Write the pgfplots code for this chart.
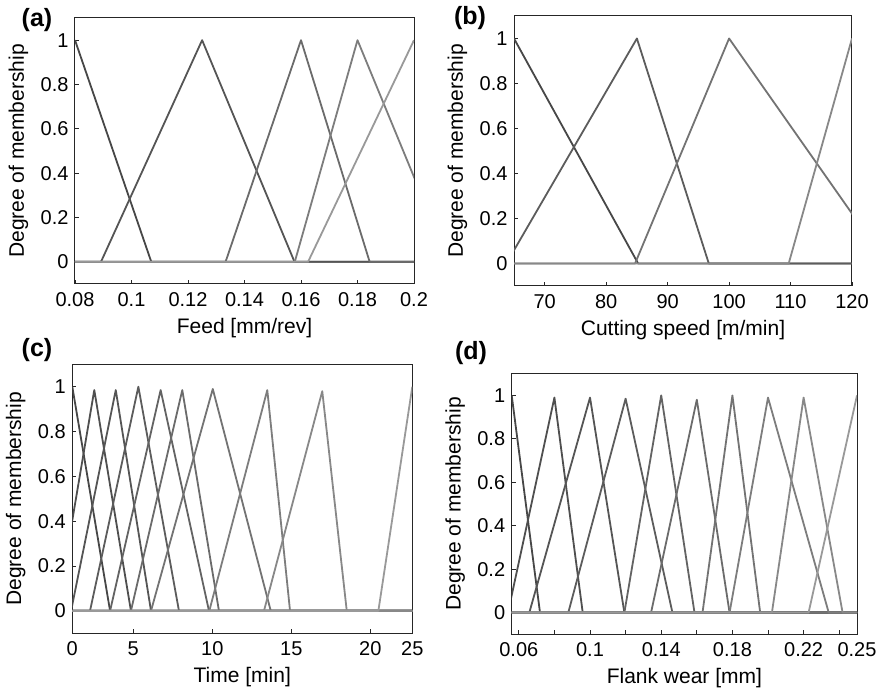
\documentclass[border=0pt]{standalone}
\usepackage{fontspec}
\setmainfont{Liberation Sans}
\usepackage{pgfplots}
\pgfplotsset{compat=1.18}

\definecolor{m1}{HTML}{474747}
\definecolor{m2}{HTML}{4F4F4F}
\definecolor{m3}{HTML}{555555}
\definecolor{m4}{HTML}{5C5C5C}
\definecolor{m5}{HTML}{636363}
\definecolor{m6}{HTML}{6B6B6B}
\definecolor{m7}{HTML}{737373}
\definecolor{m8}{HTML}{7D7D7D}
\definecolor{m9}{HTML}{888888}
\definecolor{m10}{HTML}{999999}

\pgfplotsset{mfaxis/.style={
  scale only axis, anchor=south west,
  ymin=-0.1, ymax=1.1,
  ytick={0,0.2,0.4,0.6,0.8,1}, yticklabels={0,0.2,0.4,0.6,0.8,1},
  tick align=inside, tick pos=left, major tick length=4pt,
  axis line style={line width=1pt, black!85},
  tick style={line width=0.8pt, black!85},
  ticklabel style={font=\fontsize{20}{20}\selectfont},
  xticklabel style={yshift=-5pt},
  yticklabel style={xshift=-3pt},
  label style={font=\fontsize{21}{21}\selectfont},
  /pgf/number format/assume math mode=true,
  ylabel={Degree of membership},
  ylabel style={at={([xshift=-56.5pt]axis description cs:0,0.5)}, anchor=center},
  xlabel style={at={([yshift=-44pt]axis description cs:0.5,0)}, anchor=center},
  every axis plot/.append style={line width=1.8pt, line join=round, mark=none},
}}

\begin{document}
\begin{tikzpicture}
\useasboundingbox (0,0) rectangle (879pt,692pt);

% (a) feed
\begin{axis}[mfaxis, at={(75pt,408pt)}, width=339pt, height=266pt,
  xmin=0.08, xmax=0.2,
  xtick={0.08,0.1,0.12,0.14,0.16,0.18,0.2},
  xticklabels={0.08,0.1,0.12,0.14,0.16,0.18,0.2},
  xlabel={Feed [mm/rev]}]
\addplot[m1] coordinates {(0.08,1) (0.107,0) (0.2,0)};
\addplot[m3] coordinates {(0.08,0) (0.0892,0) (0.125,1) (0.1577,0) (0.2,0)};
\addplot[m6] coordinates {(0.08,0) (0.1333,0) (0.16,1) (0.1843,0) (0.2,0)};
\addplot[m8] coordinates {(0.08,0) (0.1578,0) (0.18,1) (0.2124,0)};
\addplot[m10] coordinates {(0.08,0) (0.1625,0) (0.2,1)};
\end{axis}

% (b) cutting speed
\begin{axis}[mfaxis, at={(514pt,406pt)}, width=338pt, height=270pt,
  xmin=65, xmax=120,
  xtick={70,80,90,100,110,120},
  xticklabels={70,80,90,100,110,120},
  xlabel={Cutting speed [m/min]}]
\addplot[m1] coordinates {(65,1) (85.2,0) (120,0)};
\addplot[m4] coordinates {(63.75,0) (85,1) (96.7,0) (120,0)};
\addplot[m7] coordinates {(65,0) (84.7,0) (100,1) (125.7,0)};
\addplot[m9] coordinates {(65,0) (109.7,0) (120,1)};
\end{axis}

% (c) time
\begin{axis}[mfaxis, at={(72.3pt,58.7pt)}, width=340pt, height=269pt,
  xmin=1.139, xmax=22.658,
  xtick={1.139,5,10,15,20,22.658},
  xticklabels={0,5,10,15,20,25},
  xlabel={Time [min]}]
\addplot[m1] coordinates {(1.139,1) (3.53,0) (22.658,0)};
\addplot[m2] coordinates {(0.17,0) (2.53,0.985) (4.85,0) (22.658,0)};
\addplot[m3] coordinates {(1.06,0) (3.89,0.985) (6.12,0) (22.658,0)};
\addplot[m4] coordinates {(1.139,0) (2.26,0) (5.32,1) (7.89,0) (22.658,0)};
\addplot[m5] coordinates {(1.139,0) (3.53,0) (6.73,0.985) (9.79,0) (22.658,0)};
\addplot[m6] coordinates {(1.139,0) (4.85,0) (8.10,0.985) (10.42,0) (22.658,0)};
\addplot[m7] coordinates {(1.139,0) (6.12,0) (10.03,0.99) (13.70,0) (22.658,0)};
\addplot[m8] coordinates {(1.139,0) (9.81,0) (13.48,0.985) (14.92,0) (22.658,0)};
\addplot[m9] coordinates {(1.139,0) (13.27,0) (16.96,0.98) (18.51,0) (22.658,0)};
\addplot[m10] coordinates {(1.139,0) (20.51,0) (22.658,1)};
\end{axis}

% (d) flank wear
\begin{axis}[mfaxis, at={(511.7pt,57.7pt)}, width=345.3pt, height=260.6pt,
  xmin=0.056, xmax=0.25,
  xtick={0.06,0.08,0.1,0.12,0.14,0.16,0.18,0.2,0.22,0.24,0.25},
  xticklabels={0.06,,0.1,,0.14,,0.18,,0.22,,0.25},
  xlabel={Flank wear [mm]}]
\addplot[m1] coordinates {(0.056,1) (0.0719,0) (0.25,0)};
\addplot[m2] coordinates {(0.0539,0) (0.08,0.99) (0.0959,0) (0.25,0)};
\addplot[m3] coordinates {(0.056,0) (0.0659,0) (0.1,0.99) (0.1193,0) (0.25,0)};
\addplot[m4] coordinates {(0.056,0) (0.0878,0) (0.12,0.985) (0.1463,0) (0.25,0)};
\addplot[m5] coordinates {(0.056,0) (0.1193,0) (0.14,1) (0.1587,0) (0.25,0)};
\addplot[m6] coordinates {(0.056,0) (0.1343,0) (0.16,0.98) (0.1784,0) (0.25,0)};
\addplot[m7] coordinates {(0.056,0) (0.1632,0) (0.18,1) (0.1956,0) (0.25,0)};
\addplot[m8] coordinates {(0.056,0) (0.1784,0) (0.2,0.99) (0.2341,0) (0.25,0)};
\addplot[m9] coordinates {(0.056,0) (0.2022,0) (0.22,0.99) (0.2419,0) (0.25,0)};
\addplot[m10] coordinates {(0.056,0) (0.2228,0) (0.25,1)};
\end{axis}

\node[font=\bfseries\fontsize{25}{25}\selectfont] at (37pt,672pt) {(a)};
\node[font=\bfseries\fontsize{25}{25}\selectfont] at (470pt,674pt) {(b)};
\node[font=\bfseries\fontsize{25}{25}\selectfont] at (37pt,342pt) {(c)};
\node[font=\bfseries\fontsize{25}{25}\selectfont] at (471pt,339pt) {(d)};
\end{tikzpicture}
\end{document}
